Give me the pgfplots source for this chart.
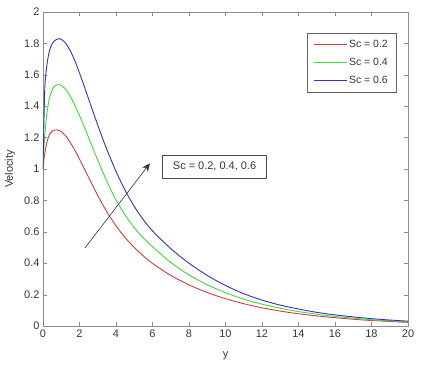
\documentclass[border=0pt]{standalone}
\usepackage{fontspec}
\setmainfont{Liberation Sans}
\usepackage{pgfplots}
\pgfplotsset{compat=1.18}
\usetikzlibrary{arrows.meta,calc}
\definecolor{scred}{RGB}{210,60,60}
\definecolor{scgreen}{RGB}{60,220,60}
\definecolor{scblue}{RGB}{50,50,200}
\definecolor{axgray}{RGB}{140,140,140}
\definecolor{txtgray}{RGB}{55,55,55}
\begin{document}
\begin{tikzpicture}
\begin{axis}[
  name=ax,
  width=365bp, height=314bp, scale only axis,
  xmin=0, xmax=20, ymin=0, ymax=2,
  xtick={0,2,4,6,8,10,12,14,16,18,20},
  ytick={0,0.2,0.4,0.6,0.8,1,1.2,1.4,1.6,1.8,2},
  tick align=inside,
  major tick length=4bp,
  axis line style={axgray},
  tick style={axgray},
  ticklabel style={font=\fontsize{11}{13}\selectfont, text=txtgray},
  /pgf/number format/assume math mode=true,
  xlabel={y}, ylabel={Velocity},
  label style={font=\fontsize{11}{13}\selectfont, text=txtgray},
  xlabel style={at={(axis description cs:0.5,-0.0955)}, anchor=center},
  ylabel style={at={(axis description cs:-0.0904,0.5)}, anchor=center},
  legend style={at={(0.967,0.932)}, anchor=north east, draw=black!60,
    font=\fontsize{10.5}{12}\selectfont,
    row sep=5bp, inner xsep=6bp, inner ysep=5bp},
  legend image code/.code={\draw[#1, line width=1bp] (0bp,0bp) -- (33bp,0bp);},
  legend cell align=left,
]
\addplot[scred, line width=0.9bp, smooth] coordinates {
(0,1.0) (0.05,1.055) (0.1,1.10) (0.2,1.163) (0.3,1.203) (0.4,1.228) (0.5,1.241)
(0.6,1.247) (0.75,1.249) (0.9,1.245) (1.0,1.238) (1.25,1.21) (1.5,1.168)
(1.75,1.118) (2.0,1.063) (2.25,1.005) (2.5,0.946) (2.75,0.888) (3.0,0.831)
(3.5,0.727) (4.0,0.638) (4.5,0.563) (5.0,0.500) (5.5,0.446) (6.0,0.399)
(7,0.322) (8,0.262) (9,0.213) (10,0.174) (11,0.142) (12,0.116) (13,0.095)
(14,0.078) (15,0.064) (16,0.053) (17,0.043) (18,0.035) (19,0.029) (20,0.023)};
\addplot[scgreen, line width=0.9bp, smooth] coordinates {
(0,1.0) (0.05,1.12) (0.1,1.22) (0.2,1.34) (0.3,1.42) (0.4,1.47) (0.5,1.503)
(0.6,1.523) (0.75,1.536) (0.9,1.538) (1.0,1.533) (1.25,1.507) (1.5,1.462)
(1.75,1.405) (2.0,1.341) (2.25,1.272) (2.5,1.200) (2.75,1.128) (3.0,1.057)
(3.5,0.922) (4.0,0.802) (4.5,0.707) (5.0,0.627) (5.5,0.561) (6.0,0.505)
(7,0.405) (8,0.325) (9,0.263) (10,0.212) (11,0.171) (12,0.139) (13,0.113)
(14,0.092) (15,0.075) (16,0.061) (17,0.05) (18,0.04) (19,0.033) (20,0.026)};
\addplot[scblue, line width=0.9bp, smooth] coordinates {
(0,1.0) (0.05,1.29) (0.1,1.52) (0.2,1.65) (0.3,1.725) (0.4,1.77) (0.5,1.797)
(0.6,1.814) (0.75,1.826) (0.9,1.830) (1.0,1.826) (1.25,1.800) (1.5,1.752)
(1.75,1.688) (2.0,1.612) (2.25,1.530) (2.5,1.446) (2.75,1.362) (3.0,1.280)
(3.25,1.200) (3.5,1.124) (4.0,0.985) (4.5,0.864) (5.0,0.762) (5.5,0.677)
(6.0,0.606) (7,0.493) (8,0.400) (9,0.322) (10,0.258) (11,0.206) (12,0.165)
(13,0.133) (14,0.108) (15,0.087) (16,0.071) (17,0.058) (18,0.047) (19,0.038) (20,0.031)};
\legend{\textcolor{txtgray}{Sc = 0.2}, \textcolor{txtgray}{Sc = 0.4}, \textcolor{txtgray}{Sc = 0.6}}
\draw[-{Stealth[length=8bp,width=7bp]}, black!80, line width=0.6bp]
  (axis cs:2.3,0.497) -- (axis cs:5.86,1.036);
\node[draw=black!70, fill=white, minimum width=104bp, minimum height=23bp,
  inner sep=0pt, font=\fontsize{11}{13}\selectfont, text=txtgray]
  at (axis cs:9.4,1.015) {Sc = 0.2, 0.4, 0.6};
\end{axis}
\pgfresetboundingbox
\path ($(ax.south west)+(-43bp,-47bp)$) rectangle ($(ax.north east)+(14bp,12bp)$);
\end{tikzpicture}
\end{document}
